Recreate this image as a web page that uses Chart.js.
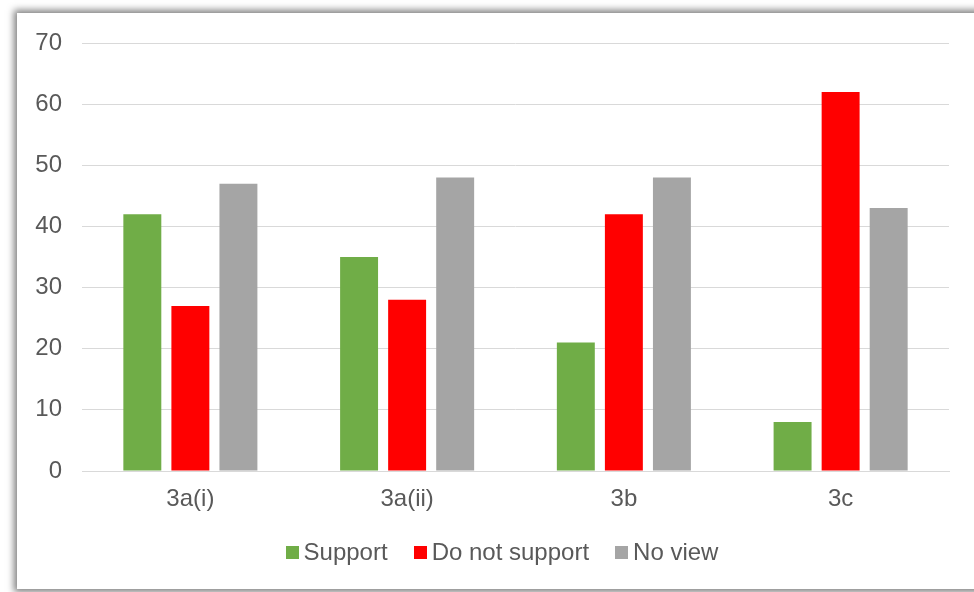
<!DOCTYPE html>
<html>
<head>
<meta charset="utf-8">
<script src="https://cdn.jsdelivr.net/npm/chart.js@4.4.0/dist/chart.umd.min.js"></script>
<style>
  html, body { margin: 0; padding: 0; background: #ffffff; width: 974px; height: 592px; overflow: hidden; position: relative; }
  #frame { position: absolute; left: 17px; top: 13px; width: 990px; height: 576px; background: #ffffff;
           box-shadow: 0 0 7px 3px rgba(0,0,0,0.5); }
  #wrap { position: absolute; left: 0; top: 0; width: 974px; height: 592px; }
  #legend { position: absolute; left: 15px; top: 538px; width: 974px; height: 28px; display: flex; justify-content: center; align-items: center;
            font-family: "Liberation Sans", Arial, sans-serif; font-size: 24px; color: #595959; }
  .item { display: flex; align-items: center; margin: 0 13px; }
  .box { width: 13px; height: 13px; margin-right: 5px; }
</style>
</head>
<body>
<div id="frame"></div>
<div id="wrap"><canvas id="c" width="974" height="592"></canvas></div>
<div id="legend"></div>
<script>
const categories = ["3a(i)", "3a(ii)", "3b", "3c"];
const seriesNames = ["Support", "Do not support", "No view"];
const supportValues = [42, 35, 21, 8];
const doNotSupportValues = [27, 28, 42, 62];
const noViewValues = [47, 48, 48, 43];
const seriesColors = ["#70AD47", "#FF0000", "#A5A5A5"];
const yTicks = [0, 10, 20, 30, 40, 50, 60, 70];

const seriesValues = [supportValues, doNotSupportValues, noViewValues];
const fontFamily = '"Liberation Sans", Arial, sans-serif';

new Chart(document.getElementById('c'), {
  type: 'bar',
  data: {
    labels: categories,
    datasets: seriesNames.map((n, i) => ({
      label: n,
      data: seriesValues[i],
      backgroundColor: seriesColors[i],
      borderWidth: 0,
      categoryPercentage: 0.665,
      barPercentage: 0.79
    }))
  },
  options: {
    responsive: false,
    animation: false,
    devicePixelRatio: 1,
    layout: { padding: { left: 30, right: 25, top: 43, bottom: 71 } },
    plugins: { legend: { display: false }, tooltip: { enabled: false } },
    scales: {
      x: {
        grid: { display: false, drawTicks: false },
        border: { display: true, color: '#d9d9d9', width: 1 },
        ticks: { color: '#595959', font: { family: fontFamily, size: 24 }, padding: 14 },
        afterFit: s => { s.height = 50; }
      },
      y: {
        min: 0, max: 70,
        afterBuildTicks: s => { s.ticks = yTicks.map(v => ({ value: v })); },
        grid: { color: '#d9d9d9', lineWidth: 1, drawTicks: false },
        border: { display: false },
        ticks: { color: '#595959', font: { family: fontFamily, size: 24 }, padding: 20 },
        afterFit: s => { s.width = 52; }
      }
    }
  }
});

const legend = document.getElementById('legend');
seriesNames.forEach((n, i) => {
  const it = document.createElement('div');
  it.className = 'item';
  const b = document.createElement('div');
  b.className = 'box';
  b.style.background = seriesColors[i];
  const t = document.createElement('span');
  t.textContent = n;
  it.appendChild(b); it.appendChild(t);
  legend.appendChild(it);
});
</script>
</body>
</html>
